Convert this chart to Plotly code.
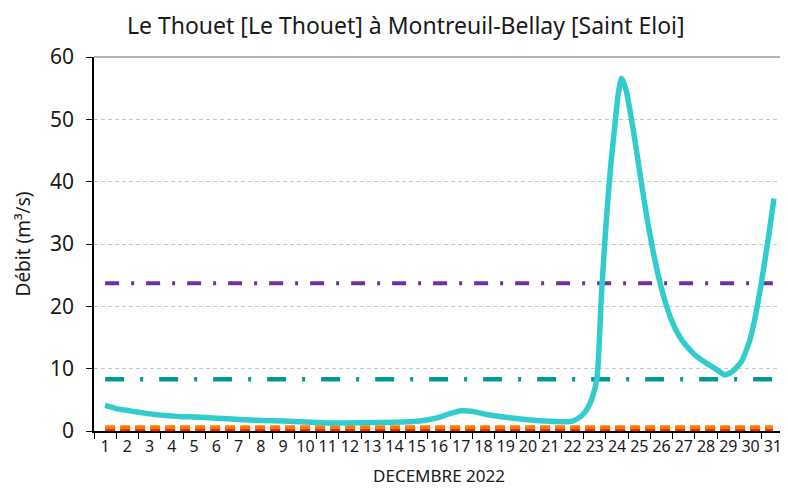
import plotly.graph_objects as go

# ---- data ----
title_text = "Le Thouet [Le Thouet] à Montreuil-Bellay [Saint Eloi]"
day_labels = [str(d) for d in range(1, 32)]
day_ticks = list(range(1, 32))

flow_days = [1.0, 1.5, 2.0, 2.5, 3.0, 3.5, 4.0, 4.5, 5.0, 6.0, 7.0, 8.0, 9.0, 10.0,
             11.0, 12.0, 13.0, 14.0, 15.0, 15.5, 16.0, 16.5, 17.0, 17.5, 18.0, 18.5,
             19.0, 19.5, 20.0, 20.5, 21.0, 21.5, 22.0, 22.4, 22.7, 22.9, 23.1, 23.3,
             23.5, 23.7, 23.9, 24.05, 24.2, 24.4, 24.6, 24.8, 25.0, 25.4, 25.9, 26.2,
             26.5, 26.8, 27.1, 27.5, 28.0, 28.5, 28.85, 29.2, 29.6, 30.0, 30.3, 30.5,
             30.8, 31.05]
flow_values = [4.1, 3.6, 3.3, 3.0, 2.75, 2.55, 2.4, 2.3, 2.25, 2.05, 1.85, 1.7, 1.6, 1.45,
               1.3, 1.3, 1.35, 1.4, 1.55, 1.8, 2.2, 2.8, 3.25, 3.15, 2.75, 2.45,
               2.2, 2.0, 1.8, 1.65, 1.55, 1.5, 1.6, 2.4, 3.8, 5.5, 8.5, 22.0,
               33.0, 42.0, 49.0, 54.0, 56.6, 54.8, 51.0, 46.7, 42.0, 33.0, 24.2, 20.3,
               17.3, 15.2, 13.7, 12.2, 10.9, 9.8, 9.0, 9.6, 11.2, 15.0, 20.0, 24.2,
               31.0, 37.3]

threshold_days = [1, 31]
threshold_purple = [23.7, 23.7]
threshold_teal = [8.3, 8.3]
threshold_orange = [0.6, 0.6]
threshold_red = [0.3, 0.3]

FONT = "Noto Sans"
TXT = "#1a1a1a"

fig = go.Figure()

fig.add_trace(go.Scatter(x=threshold_days, y=threshold_red, mode="lines",
                         line=dict(color="#FF1A00", width=4, dash="10px,5px"),
                         hoverinfo="skip", showlegend=False))
fig.add_trace(go.Scatter(x=threshold_days, y=threshold_orange, mode="lines",
                         line=dict(color="#FF7A00", width=4, dash="10px,5px"),
                         hoverinfo="skip", showlegend=False))
fig.add_trace(go.Scatter(x=threshold_days, y=threshold_teal, mode="lines",
                         line=dict(color="#009A96", width=4.5, dash="19px,16px,3px,16px"),
                         hoverinfo="skip", showlegend=False))
fig.add_trace(go.Scatter(x=threshold_days, y=threshold_purple, mode="lines",
                         line=dict(color="#7030A0", width=4, dash="14px,12px,3px,12px"),
                         hoverinfo="skip", showlegend=False))
fig.add_trace(go.Scatter(x=flow_days, y=flow_values, mode="lines",
                         line=dict(color="#33CCCC", width=5.5, shape="spline", smoothing=0.6),
                         showlegend=False))

fig.update_layout(
    width=780, height=481,
    margin=dict(l=86, r=4, t=49, b=58),
    paper_bgcolor="white", plot_bgcolor="white",
    title=dict(text=title_text, x=0.51, xanchor="center", y=0.962, yanchor="middle",
               font=dict(family=FONT, size=23, color=TXT)),
    font=dict(family=FONT, color=TXT),
    xaxis=dict(range=[0.5, 31.5], tickmode="array", tickvals=day_ticks, ticktext=day_labels,
               tickangle=0, ticks="", showgrid=False, zeroline=False,
               showline=True, linecolor="black", linewidth=1.5,
               tickfont=dict(family=FONT, size=16, color=TXT),
               minor=dict(tickmode="linear", tick0=0.5, dtick=1, ticks="outside",
                          ticklen=6, tickcolor="black", tickwidth=1.3, showgrid=False),
               title=dict(text="DECEMBRE 2022", standoff=14,
                          font=dict(family=FONT, size=17, color=TXT))),
    yaxis=dict(range=[0, 60], tickmode="array", tickvals=[0, 10, 20, 30, 40, 50, 60],
               ticks="outside", ticklen=6, tickcolor="black", tickwidth=1.3,
               ticklabelstandoff=8,
               showgrid=True, gridcolor="#C8C8C8", griddash="4px,3px", gridwidth=1,
               zeroline=False, showline=True, linecolor="black", linewidth=1.5,
               tickfont=dict(family=FONT, size=21, color=TXT),
               title=dict(text="Débit (m³/s)", standoff=14,
                          font=dict(family=FONT, size=19, color=TXT))),
    shapes=[
        dict(type="line", xref="paper", yref="paper", x0=0, x1=1, y0=1, y1=1,
             line=dict(color="#9A9A9A", width=1.3), layer="below"),
        dict(type="line", xref="paper", yref="paper", x0=1, x1=1, y0=0, y1=1,
             line=dict(color="#9A9A9A", width=1.3), layer="below"),
    ],
)

fig.write_html("out.html")
